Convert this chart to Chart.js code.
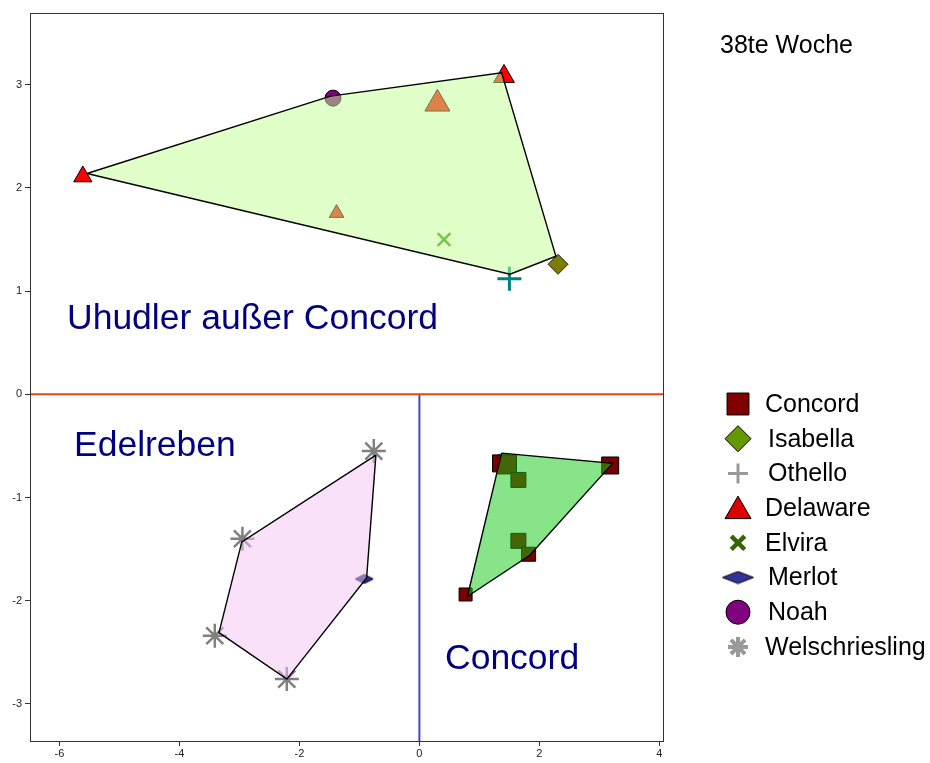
<!DOCTYPE html>
<html>
<head>
<meta charset="utf-8">
<script src="https://cdn.jsdelivr.net/npm/chart.js@4.4.1/dist/chart.umd.min.js"></script>
<style>
  body { margin: 0; background: #fff; }
  #chart { display: block; }
</style>
</head>
<body>
<canvas id="chart" width="930" height="763"></canvas>
<script>
// axis setup
const xTicks = [-6, -4, -2, 0, 2, 4];
const yTicks = [-3, -2, -1, 0, 1, 2, 3];
const xMin = -6.49, xMax = 4.06, yMin = -3.36, yMax = 3.695;

const varieties = ['Concord', 'Isabella', 'Othello', 'Delaware', 'Elvira', 'Merlot', 'Noah', 'Welschriesling'];
const groupNames = ['Uhudler außer Concord', 'Edelreben', 'Concord'];
const weekLabel = '38te Woche';

// scores per variety
const concordX = [1.36, 1.46, 1.65, 3.18, 1.65, 1.82, 0.77];
const concordY = [-0.67, -0.68, -0.83, -0.69, -1.42, -1.55, -1.94];
const isabellaX = [2.31];
const isabellaY = [1.26];
const othelloX = [1.50];
const othelloY = [1.12];
const delawareX = [-5.61, 1.41, 0.30, -1.38];
const delawareY = [2.11, 3.08, 2.815, 1.756];
const elviraX = [0.41];
const elviraY = [1.50];
const merlotX = [-0.92];
const merlotY = [-1.79];
const noahX = [-1.44];
const noahY = [2.87];
const welschX = [-0.76, -2.95, -3.41, -2.21];
const welschY = [-0.55, -1.40, -2.34, -2.76];

// convex hulls of the three groups
const uhudlerHullX = [-5.54, -1.48, 1.37, 2.275, 1.51];
const uhudlerHullY = [2.14, 2.89, 3.116, 1.338, 1.164];
const concordHullX = [1.37, 3.22, 1.84, 0.80];
const concordHullY = [-0.57, -0.67, -1.56, -1.96];
const edelHullX = [-0.725, -2.96, -3.34, -2.21, -0.88];
const edelHullY = [-0.59, -1.43, -2.31, -2.76, -1.78];

// marker sizes
const concordSide = [17, 19, 15, 17, 15, 14, 13];
const delawareRadius = [10.5, 12, 14.5, 8.5];

const pts = (xs, ys) => xs.map((x, i) => ({x: x, y: ys[i]}));
const ring = (xs, ys) => { const p = pts(xs, ys); p.push(p[0]); return p; };

// Merlot uses a flat diamond, drawn once onto a small canvas
function flatDiamond(w, h, fill) {
  const c = document.createElement('canvas');
  c.width = w + 2; c.height = h + 2;
  const g = c.getContext('2d');
  g.beginPath();
  g.moveTo(1, h / 2 + 1); g.lineTo(w / 2 + 1, 1); g.lineTo(w + 1, h / 2 + 1); g.lineTo(w / 2 + 1, h + 1);
  g.closePath();
  g.fillStyle = fill; g.fill();
  g.strokeStyle = '#000'; g.lineWidth = 1; g.stroke();
  return c;
}
const merlotSmall = flatDiamond(18, 9, '#2b2b96');
const merlotLarge = flatDiamond(31, 12, '#333399');

const FONT = '"Liberation Sans", Arial, Helvetica, sans-serif';

const markerSets = [
  {label: 'Concord', data: pts(concordX, concordY), pointStyle: 'rect',
    pointRadius: concordSide.map(s => s / Math.SQRT2), backgroundColor: '#7a0000', borderColor: '#000', borderWidth: 1},
  {label: 'Isabella', data: pts(isabellaX, isabellaY), pointStyle: 'rectRot',
    pointRadius: 10, backgroundColor: '#7d7d00', borderColor: '#222', borderWidth: 1},
  {label: 'Othello', data: pts(othelloX, othelloY), pointStyle: 'cross',
    pointRadius: 12, borderColor: '#008080', borderWidth: 3},
  {label: 'Delaware', data: pts(delawareX, delawareY), pointStyle: 'triangle',
    pointRadius: delawareRadius, backgroundColor: '#ff0000', borderColor: '#000', borderWidth: 1},
  {label: 'Elvira', data: pts(elviraX, elviraY), pointStyle: 'crossRot',
    pointRadius: 9, borderColor: '#2f8a00', borderWidth: 2.5},
  {label: 'Merlot', data: pts(merlotX, merlotY), pointStyle: merlotSmall, pointRadius: 9},
  {label: 'Noah', data: pts(noahX, noahY), pointStyle: 'circle',
    pointRadius: 8, backgroundColor: '#800080', borderColor: '#000', borderWidth: 1},
  {label: 'Welschriesling', data: pts(welschX, welschY), pointStyle: 'star',
    pointRadius: 12, borderColor: '#808080', borderWidth: 2.5}
].map(d => Object.assign({type: 'scatter', showLine: false, pointHoverRadius: d.pointRadius}, d));

const hullSets = [
  {data: ring(uhudlerHullX, uhudlerHullY), backgroundColor: 'rgba(195,255,145,0.5)'},
  {data: ring(concordHullX, concordHullY), backgroundColor: 'rgba(17,201,17,0.5)'},
  {data: ring(edelHullX, edelHullY), backgroundColor: 'rgba(245,195,245,0.5)'}
].map(d => Object.assign({type: 'scatter', label: 'hull', showLine: true, fill: 'shape',
  borderColor: '#000', borderWidth: 1.4, pointRadius: 0, tension: 0, order: -1}, d));

const refLines = [
  {data: [{x: xMin, y: 0}, {x: xMax, y: 0}], borderColor: '#e0481c'},
  {data: [{x: 0, y: 0}, {x: 0, y: yMin}], borderColor: '#4747bd'}
].map(d => Object.assign({type: 'scatter', label: 'ref', showLine: true, borderWidth: 2, pointRadius: 0, order: 1}, d));

// legend styling
const legendStyle = [
  {pointStyle: 'rect', radius: 15.5, fill: '#800000', stroke: '#000', width: 1},
  {pointStyle: 'rectRot', radius: 13, fill: '#669900', stroke: '#000', width: 1},
  {pointStyle: 'cross', radius: 10, fill: '#999', stroke: '#999', width: 3},
  {pointStyle: 'triangle', radius: 15, fill: '#dd0000', stroke: '#000', width: 1},
  {pointStyle: 'crossRot', radius: 9.5, fill: '#336600', stroke: '#336600', width: 4.5},
  {pointStyle: merlotLarge, radius: 15, fill: '#333399', stroke: '#000', width: 1},
  {pointStyle: 'circle', radius: 12, fill: '#800080', stroke: '#000', width: 1},
  {pointStyle: 'star', radius: 10, fill: '#999', stroke: '#999', width: 4}
];

const extras = {
  id: 'extras',
  afterDraw(chart) {
    const {ctx, chartArea: a} = chart;
    ctx.save();
    // frame
    ctx.strokeStyle = '#333';
    ctx.lineWidth = 1;
    ctx.strokeRect(a.left + 0.5, a.top + 0.5, a.right - a.left, a.bottom - a.top);

    // group labels
    ctx.fillStyle = '#000080';
    ctx.font = '35.5px ' + FONT;
    ctx.textBaseline = 'alphabetic';
    ctx.fillText(groupNames[0], 67, 329);
    ctx.fillText(groupNames[1], 74, 456);
    ctx.fillText(groupNames[2], 445, 669);

    ctx.fillStyle = '#000';
    ctx.font = '25px ' + FONT;
    ctx.fillText(weekLabel, 720, 53);

    // legend
    ctx.textBaseline = 'middle';
    varieties.forEach((name, i) => {
      const y = 404 + i * 34.7;
      const s = legendStyle[i];
      ctx.fillStyle = s.fill;
      ctx.strokeStyle = s.stroke;
      ctx.lineWidth = s.width;
      Chart.helpers.drawPoint(ctx, {pointStyle: s.pointStyle, radius: s.radius, rotation: 0, borderWidth: s.width}, 738, y + (s.pointStyle === 'triangle' ? 3 : 0));
      ctx.fillStyle = '#000';
      ctx.font = '25px ' + FONT;
      ctx.fillText(name, i === 1 || i === 2 || i === 5 || i === 6 ? 768 : 765, y + 1);
    });
    ctx.restore();
  }
};

const tickFont = {family: FONT, size: 11};

new Chart(document.getElementById('chart'), {
  type: 'scatter',
  data: {datasets: [...refLines, ...markerSets, ...hullSets]},
  options: {
    responsive: false,
    animation: false,
    events: [],
    layout: {autoPadding: false, padding: {top: 13, right: 267, left: 0, bottom: 0}},
    plugins: {legend: {display: false}, tooltip: {enabled: false}},
    scales: {
      x: {
        type: 'linear', min: xMin, max: xMax,
        afterFit: s => { s.height = 22; s.paddingLeft = 0; s.paddingRight = 0; },
        afterBuildTicks: s => { s.ticks = xTicks.map(v => ({value: v})); },
        ticks: {font: tickFont, color: '#222', padding: 1, maxRotation: 0},
        grid: {drawOnChartArea: false, tickLength: 5, color: '#333'},
        border: {color: '#333'}
      },
      y: {
        type: 'linear', min: yMin, max: yMax,
        afterFit: s => { s.width = 30; s.paddingTop = 0; s.paddingBottom = 0; },
        afterBuildTicks: s => { s.ticks = yTicks.map(v => ({value: v})); },
        ticks: {font: tickFont, color: '#222', padding: 3},
        grid: {drawOnChartArea: false, tickLength: 5, color: '#333'},
        border: {color: '#333'}
      }
    }
  },
  plugins: [extras]
});
</script>
</body>
</html>
